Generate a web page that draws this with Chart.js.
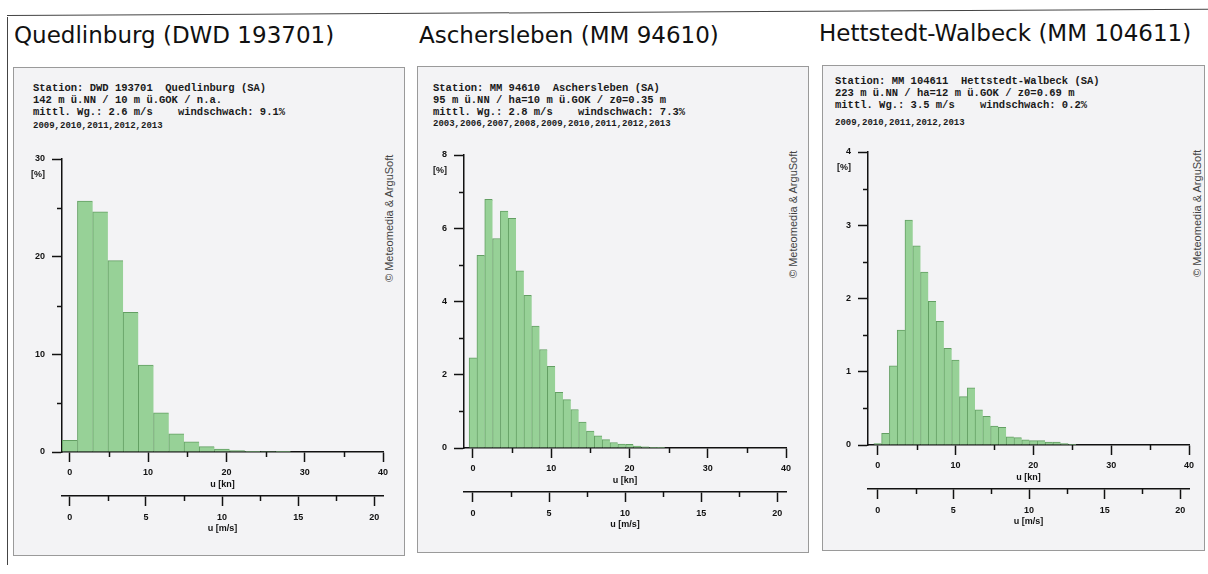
<!DOCTYPE html>
<html>
<head>
<meta charset="utf-8">
<script src="https://cdn.jsdelivr.net/npm/chart.js@4.4.1/dist/chart.umd.min.js"></script>
<style>
  body { margin: 0; background: #fff; width: 1208px; height: 574px; position: relative; overflow: hidden; }
  .frameTop { position: absolute; left: 7px; top: 15px; width: 1210px; border-top: 1.5px solid #444; transform-origin: left top; transform: rotate(-0.3deg); }
  .frameLeft { position: absolute; left: 7px; top: 17px; height: 548px; border-left: 1.5px solid #444; }
  .title { position: absolute; font-family: "DejaVu Sans", sans-serif; font-size: 23px; color: #111; white-space: nowrap; }
  .panel { position: absolute; border: 1px solid #9a9a9a; background: #f3f3f5; }
  .head { position: absolute; font-family: "Liberation Mono", monospace; font-weight: bold; font-size: 10.5px; line-height: 12px; color: #1a1a1a; white-space: pre; }
  .years { position: absolute; font-family: "Liberation Mono", monospace; font-weight: bold; font-size: 9px; line-height: 11px; color: #1a1a1a; white-space: pre; }
  .copy { position: absolute; font-family: "Liberation Sans", Arial, sans-serif; font-size: 11px; line-height: 13px; color: #444; white-space: nowrap; transform-origin: left top; transform: rotate(-90deg); }
  canvas { position: absolute; }
</style>
</head>
<body>
<div class="frameTop"></div>
<div class="frameLeft"></div>

<div class="title" style="left:14px; top:22px;">Quedlinburg (DWD 193701)</div>
<div class="title" style="left:419px; top:22px;">Aschersleben (MM 94610)</div>
<div class="title" style="left:819px; top:20px;">Hettstedt-Walbeck (MM 104611)</div>

<div class="panel" style="left:13px; top:67px; width:390px; height:487px;"></div>
<div class="panel" style="left:417px; top:66px; width:390px; height:485px;"></div>
<div class="panel" style="left:822px; top:65px; width:381px; height:484px;"></div>

<div class="head" style="left:33px; top:82px;">Station: DWD 193701  Quedlinburg (SA)
142 m ü.NN / 10 m ü.GOK / n.a.
mittl. Wg.: 2.6 m/s    windschwach: 9.1%</div>
<div class="years" style="left:33px; top:121px;">2009,2010,2011,2012,2013</div>

<div class="head" style="left:433px; top:82px;">Station: MM 94610  Aschersleben (SA)
95 m ü.NN / ha=10 m ü.GOK / z0=0.35 m
mittl. Wg.: 2.8 m/s    windschwach: 7.3%</div>
<div class="years" style="left:433px; top:119px;">2003,2006,2007,2008,2009,2010,2011,2012,2013</div>

<div class="head" style="left:835px; top:75px;">Station: MM 104611  Hettstedt-Walbeck (SA)
223 m ü.NN / ha=12 m ü.GOK / z0=0.69 m
mittl. Wg.: 3.5 m/s    windschwach: 0.2%</div>
<div class="years" style="left:835px; top:118px;">2009,2010,2011,2012,2013</div>

<div class="copy" style="left:383px; top:282px;">© Meteomedia &amp; ArguSoft</div>
<div class="copy" style="left:787px; top:278px;">© Meteomedia &amp; ArguSoft</div>
<div class="copy" style="left:1191px; top:277px;">© Meteomedia &amp; ArguSoft</div>

<canvas id="chartQued" width="390" height="405" style="left:13px; top:140px;"></canvas>
<canvas id="chartAsch" width="391" height="405" style="left:415px; top:136px;"></canvas>
<canvas id="chartHett" width="390" height="405" style="left:819px; top:133px;"></canvas>

<script>
'use strict'

const KN_PER_MS = 1.944;

// Quedlinburg: 1 m/s bins
const quedBinsMs = [0, 1, 2, 3, 4, 5, 6, 7, 8, 9, 10, 11, 12, 13, 14];
const quedFreq = [1.2, 25.7, 24.6, 19.6, 14.3, 8.9, 4.0, 1.85, 1.05, 0.55, 0.3, 0.15, 0.08, 0.04, 0.02];

// Aschersleben: 1 kn bins
const aschBinsKn = [0, 1, 2, 3, 4, 5, 6, 7, 8, 9, 10, 11, 12, 13, 14, 15, 16, 17, 18, 19, 20, 21, 22, 23, 24];
const aschFreq = [2.46, 5.26, 6.79, 5.72, 6.47, 6.27, 4.84, 4.17, 3.33, 2.69, 2.23, 1.52, 1.32, 1.05, 0.71, 0.46, 0.33, 0.23, 0.15, 0.11, 0.1, 0.05, 0.03, 0.02, 0.01];

// Hettstedt-Walbeck: 1 kn bins
const hettBinsKn = [0, 1, 2, 3, 4, 5, 6, 7, 8, 9, 10, 11, 12, 13, 14, 15, 16, 17, 18, 19, 20, 21, 22, 23, 24, 25];
const hettFreq = [0.02, 0.16, 1.08, 1.57, 3.07, 2.72, 2.36, 1.96, 1.69, 1.32, 1.16, 0.66, 0.78, 0.48, 0.39, 0.26, 0.24, 0.11, 0.10, 0.07, 0.06, 0.06, 0.04, 0.04, 0.02, 0.01];

const knTicks = [0, 5, 10, 15, 20, 25, 30, 35, 40];
const knLabels = [0, 10, 20, 30, 40];
const msTicks = [0, 2.5, 5, 7.5, 10, 12.5, 15, 17.5, 20];
const msLabels = [0, 5, 10, 15, 20];

const quedYTicks = [0, 5, 10, 15, 20, 25, 30];
const quedYLabels = [0, 10, 20, 30];
const aschYTicks = [0, 1, 2, 3, 4, 5, 6, 7, 8];
const aschYLabels = [0, 2, 4, 6, 8];
const hettYTicks = [0, 0.5, 1, 1.5, 2, 2.5, 3, 3.5, 4];
const hettYLabels = [0, 1, 2, 3, 4];

const tickFont = { family: 'Liberation Sans', size: 9, weight: 'bold' };

// short minor tick marks and the [%] label
function minorTicks(yTicks, yLabels) {
  return {
    id: 'minorTicks',
    afterDraw(chart) {
      const ctx = chart.ctx;
      const area = chart.chartArea;
      ctx.save();
      ctx.setLineDash([]);
      ctx.strokeStyle = '#111';
      ctx.lineWidth = 1.5;
      [['x', knTicks, knLabels], ['xms', msTicks, msLabels]].forEach(function(a) {
        const s = chart.scales[a[0]];
        a[1].forEach(function(v) {
          if (a[2].includes(v)) return;
          const px = Math.round(s.getPixelForValue(v)) + 0.5;
          ctx.beginPath();
          ctx.moveTo(px, s.top);
          ctx.lineTo(px, s.top + 5);
          ctx.stroke();
        });
      });
      const y = chart.scales.y;
      yTicks.forEach(function(v) {
        if (yLabels.includes(v)) return;
        const py = Math.round(y.getPixelForValue(v)) + 0.5;
        ctx.beginPath();
        ctx.moveTo(area.left - 5, py);
        ctx.lineTo(area.left, py);
        ctx.stroke();
      });
      ctx.fillStyle = '#111';
      ctx.font = 'bold 9px "Liberation Sans"';
      ctx.textAlign = 'right';
      ctx.textBaseline = 'middle';
      ctx.fillText('[%]', area.left - 17, area.top + 16);
      ctx.restore();
    }
  };
}

function majorColor(labels) {
  return function(c) {
    return c.tick && labels.includes(c.tick.value) ? '#111' : 'rgba(0,0,0,0)';
  };
}

function makeChart(id, binsKn, freq, xMin, yMax, yTicks, yLabels) {
  const points = [];
  for (let i = 0; i < binsKn.length; i++) {
    points.push({ x: binsKn[i], y: freq[i] });
  }
  const ctx = document.getElementById(id).getContext('2d');
  return new Chart(ctx, {
    type: 'bar',
    data: {
      datasets: [{
        data: points,
        xAxisID: 'x',
        yAxisID: 'y',
        backgroundColor: '#97d197',
        borderColor: '#639f63',
        borderWidth: { top: 1, left: 1, right: 0, bottom: 0 },
        borderSkipped: false,
        barPercentage: 1,
        categoryPercentage: 1
      }]
    },
    options: {
      responsive: false,
      animation: false,
      devicePixelRatio: 1,
      layout: { padding: { left: 9, right: 20, top: 19, bottom: 10 } },
      plugins: {
        legend: { display: false },
        tooltip: { enabled: false }
      },
      scales: {
        x: {
          type: 'linear',
          position: 'bottom',
          weight: 0,
          offset: false,
          min: xMin,
          max: 40,
          afterBuildTicks: function(s) { s.ticks = knTicks.map(function(v) { return { value: v }; }); },
          afterFit: function(s) { s.height = 44; },
          grid: { display: true, drawOnChartArea: false, drawTicks: true, tickLength: 10, tickWidth: 1.5, tickColor: majorColor(knLabels), offset: false },
          border: { display: true, color: '#111', width: 1.5 },
          ticks: {
            autoSkip: false,
            maxRotation: 0,
            padding: 5,
            color: '#111',
            font: tickFont,
            callback: function(v) { return knLabels.includes(v) ? String(v) : ''; }
          },
          title: { display: true, text: 'u [kn]', color: '#111', font: tickFont, padding: { top: 0, bottom: 5.6 } }
        },
        xms: {
          type: 'linear',
          position: 'bottom',
          weight: 1,
          offset: false,
          min: xMin / KN_PER_MS,
          max: 40 / KN_PER_MS,
          afterBuildTicks: function(s) { s.ticks = msTicks.map(function(v) { return { value: v }; }); },
          afterFit: function(s) { s.height = 39; },
          grid: { display: true, drawOnChartArea: false, drawTicks: true, tickLength: 10, tickWidth: 1.5, tickColor: majorColor(msLabels), offset: false },
          border: { display: true, color: '#111', width: 1.5 },
          ticks: {
            autoSkip: false,
            maxRotation: 0,
            padding: 6,
            color: '#111',
            font: tickFont,
            callback: function(v) { return msLabels.includes(v) ? String(v) : ''; }
          },
          title: { display: true, text: 'u [m/s]', color: '#111', font: tickFont, padding: { top: 0, bottom: 1 } }
        },
        y: {
          type: 'linear',
          position: 'left',
          min: 0,
          max: yMax,
          afterBuildTicks: function(s) { s.ticks = yTicks.map(function(v) { return { value: v }; }); },
          afterFit: function(s) { s.width = 40; },
          grid: { display: true, drawOnChartArea: false, drawTicks: true, tickLength: 10, tickWidth: 1.5, tickColor: majorColor(yLabels) },
          border: { display: true, color: '#111', width: 1.5 },
          ticks: {
            autoSkip: false,
            padding: 7,
            color: '#111',
            font: tickFont,
            callback: function(v) { return yLabels.includes(v) ? String(v) : ''; }
          }
        }
      }
    },
    plugins: [minorTicks(yTicks, yLabels)]
  });
}

makeChart('chartQued', quedBinsMs.map(function(v) { return v * KN_PER_MS; }), quedFreq, -1.0, 30, quedYTicks, quedYLabels);
makeChart('chartAsch', aschBinsKn, aschFreq, -1.15, 8, aschYTicks, aschYLabels);
makeChart('chartHett', hettBinsKn, hettFreq, -1.25, 4, hettYTicks, hettYLabels);
</script>
</body>
</html>
